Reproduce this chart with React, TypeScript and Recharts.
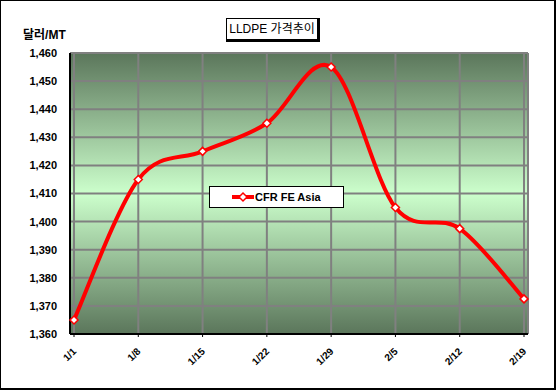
import React from 'react';
import { LineChart, Line, XAxis, YAxis, CartesianGrid, Legend } from 'recharts';

const dates = ['1/1', '1/8', '1/15', '1/22', '1/29', '2/5', '2/12', '2/19'];
const cfrFeAsia = [1365, 1415, 1425, 1435, 1455, 1405, 1397.5, 1372.5];
const yTicks = [1360, 1370, 1380, 1390, 1400, 1410, 1420, 1430, 1440, 1450, 1460];

const data = dates.map((d, i) => ({ date: d, value: cfrFeAsia[i] }));

const FONT = '"Liberation Sans", Arial, "Noto Sans CJK KR", sans-serif';

// Excel-style smoothed line (Catmull-Rom through each point)
const excelSmooth = (context: any) => {
  let pts: number[][] = [];
  return {
    areaStart() {},
    areaEnd() {},
    lineStart() {
      pts = [];
    },
    lineEnd() {
      if (!pts.length) return;
      context.moveTo(pts[0][0], pts[0][1]);
      for (let i = 0; i < pts.length - 1; i++) {
        const p0 = pts[i - 1] || pts[i];
        const p1 = pts[i];
        const p2 = pts[i + 1];
        const p3 = pts[i + 2] || p2;
        context.bezierCurveTo(
          p1[0] + (p2[0] - p0[0]) / 6,
          p1[1] + (p2[1] - p0[1]) / 6,
          p2[0] - (p3[0] - p1[0]) / 6,
          p2[1] - (p3[1] - p1[1]) / 6,
          p2[0],
          p2[1]
        );
      }
    },
    point(x: number, y: number) {
      pts.push([x, y]);
    },
  };
};

const Diamond = (props: any) => {
  const { cx, cy } = props;
  if (cx == null || cy == null) return null;
  const r = 4;
  return (
    <path
      d={`M${cx},${cy - r}L${cx + r},${cy}L${cx},${cy + r}L${cx - r},${cy}Z`}
      fill="#fff"
      stroke="#ff0000"
      strokeWidth={1.5}
    />
  );
};

const XTick = (props: any) => {
  const { x, y, payload } = props;
  const ax = x + 3;
  const ay = y + 13;
  return (
    <text
      x={ax}
      y={ay}
      transform={`rotate(-45, ${ax}, ${ay})`}
      textAnchor="end"
      fontSize={10}
      fontWeight="bold"
      fontFamily={FONT}
      fill="#000"
    >
      {payload.value}
    </text>
  );
};

const LegendBox = () => (
  <div
    style={{
      width: 133,
      height: 20,
      border: '1px solid #000',
      background: '#fff',
      display: 'flex',
      alignItems: 'center',
      fontFamily: FONT,
      fontSize: 11,
      fontWeight: 'bold',
    }}
  >
    <svg width={45} height={20}>
      <line x1={22} y1={10} x2={44} y2={10} stroke="#ff0000" strokeWidth={4} />
      <path d="M33,6L37,10L33,14L29,10Z" fill="#fff" stroke="#ff0000" strokeWidth={1.5} />
    </svg>
    <span>CFR FE Asia</span>
  </div>
);

export default function App() {
  return (
    <div
      style={{
        position: 'absolute',
        left: 0,
        top: 0,
        width: 556,
        height: 390,
        background: '#fff',
        boxSizing: 'border-box',
        border: '1px solid #000',
        borderRightWidth: 2,
        borderBottomWidth: 2,
        fontFamily: FONT,
      }}
    >
      <style>{'body{margin:0}'}</style>
      <div
        style={{
          position: 'absolute',
          left: 225,
          top: 17,
          width: 90,
          height: 20,
          border: '1px solid #000',
          borderRightWidth: 3,
          borderBottomWidth: 3,
          background: '#fff',
          fontSize: 12,
          lineHeight: '20px',
          textAlign: 'center',
          zIndex: 2,
        }}
      >
        LLDPE 가격추이
      </div>
      <div
        style={{
          position: 'absolute',
          left: 22,
          top: 24,
          fontSize: 12,
          fontWeight: 'bold',
          zIndex: 2,
        }}
      >
        달러/MT
      </div>
      <div style={{ position: 'absolute', left: -1, top: -1 }}>
        <LineChart
          width={556}
          height={390}
          data={data}
          margin={{ top: 53, right: 28, bottom: 0, left: 0 }}
        >
          <defs>
            <linearGradient id="plotBg" x1="0" y1="0" x2="0" y2="1">
              <stop offset="0%" stopColor="#5b765b" />
              <stop offset="50%" stopColor="#ccffcc" />
              <stop offset="100%" stopColor="#5b765b" />
            </linearGradient>
          </defs>
          <CartesianGrid
            fill="url(#plotBg)"
            fillOpacity={1}
            stroke="#808080"
            strokeWidth={2}
            yAxisId="left"
          />
          <XAxis
            dataKey="date"
            height={56}
            padding={{ left: 4, right: 4 }}
            axisLine={{ stroke: '#000', strokeWidth: 2 }}
            tickLine={{ stroke: '#000' }}
            tickSize={3}
            tick={<XTick />}
            interval={0}
          />
          <YAxis
            yAxisId="left"
            domain={[1360, 1460]}
            ticks={yTicks}
            width={70}
            axisLine={{ stroke: '#000', strokeWidth: 2 }}
            tickLine={false}
            tickSize={0}
            tickMargin={13}
            tickFormatter={(v: number) => v.toLocaleString('en-US')}
            tick={{ fontSize: 11, fontWeight: 'bold', fill: '#000', fontFamily: FONT }}
            allowDataOverflow
          />
          <YAxis
            yAxisId="right"
            orientation="right"
            width={0}
            domain={[1360, 1460]}
            axisLine={{ stroke: '#808080', strokeWidth: 3 }}
            tick={false}
            tickLine={false}
          />
          <Legend
            content={<LegendBox />}
            layout="horizontal"
            verticalAlign="middle"
            align="center"
            wrapperStyle={{ left: 209, top: 186, width: 135 }}
          />
          <Line
            yAxisId="left"
            dataKey="value"
            name="CFR FE Asia"
            type={excelSmooth as any}
            stroke="#ff0000"
            strokeWidth={4}
            dot={<Diamond />}
            activeDot={false}
            isAnimationActive={false}
          />
        </LineChart>
      </div>
    </div>
  );
}
